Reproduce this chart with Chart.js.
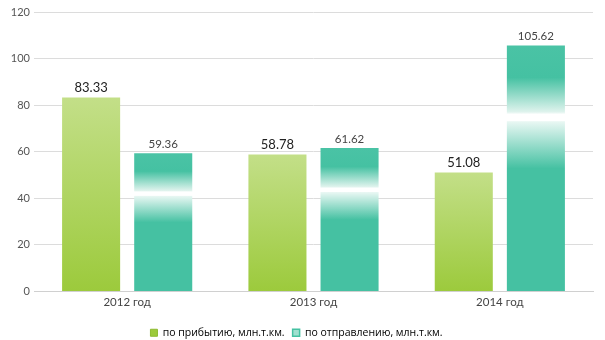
<!DOCTYPE html>
<html>
<head>
<meta charset="utf-8">
<script src="https://cdn.jsdelivr.net/npm/chart.js@4/dist/chart.umd.min.js"></script>
<style>
  html, body { margin: 0; padding: 0; background: #fff; }
  #wrap { width: 605px; height: 340px; }
</style>
</head>
<body>
<div id="wrap"><canvas id="chart"></canvas></div>
<script>
// Data
var categories = ['2012 год', '2013 год', '2014 год'];
var arrivalValues = [83.33, 58.78, 51.08];
var departureValues = [59.36, 61.62, 105.62];
var seriesNames = ['по прибытию, млн.т.км.', 'по отправлению, млн.т.км.'];
var yTicks = [0, 20, 40, 60, 80, 100, 120];

var teal = '#45c1a2';

// Gradient for each bar, from its own top to the axis
function barGradient(ctx, stops) {
	var chart = ctx.chart;
	var y = chart.scales.y;
	if (!y || ctx.raw === undefined) return stops[0][1];
	var top = y.getPixelForValue(ctx.raw);
	var base = y.getPixelForValue(0);
	var g = chart.ctx.createLinearGradient(0, top, 0, base);
	stops.forEach(s => g.addColorStop(s[0], s[1]));
	return g;
}

var greenStops = [[0, '#c3df88'], [1, '#9cca3c']];
var tealStops = [
	[0, '#4ac3a5'], [0.13, teal], [0.27, '#dff3ed'], [0.28, '#ffffff'],
	[0.305, '#ffffff'], [0.31, '#e8f7f3'], [0.5, teal], [1, teal]
];

// Value labels above the bars
var valueLabels = {
	id: 'valueLabels',
	afterDatasetsDraw: function (chart) {
		var ctx = chart.ctx;
		ctx.save();
		ctx.textAlign = 'center';
		ctx.textBaseline = 'bottom';
		chart.data.datasets.forEach((ds, i) => {
			var meta = chart.getDatasetMeta(i);
			meta.data.forEach((bar, j) => {
				if (i == 0) {
					ctx.font = '13px Lato';
					ctx.fillStyle = '#222';
				} else {
					ctx.font = '11.5px Lato';
					ctx.fillStyle = '#444';
				}
				ctx.fillText(ds.data[j].toFixed(2), bar.x, bar.y - 3);
			});
		});
		ctx.restore();
	}
};

new Chart(document.getElementById('chart').getContext('2d'), {
	type: 'bar',
	data: {
		labels: categories,
		datasets: [
			{
				label: seriesNames[0],
				data: arrivalValues,
				backgroundColor: ctx => barGradient(ctx, greenStops),
				categoryPercentage: 0.774,
				barPercentage: 0.805
			},
			{
				label: seriesNames[1],
				data: departureValues,
				backgroundColor: ctx => barGradient(ctx, tealStops),
				categoryPercentage: 0.774,
				barPercentage: 0.805
			}
		]
	},
	options: {
		responsive: true,
		maintainAspectRatio: false,
		animation: false,
		layout: { padding: { top: 12, right: 12, left: 0, bottom: -8 } },
		plugins: {
			tooltip: { enabled: false },
			legend: {
				position: 'bottom',
				labels: {
					boxWidth: 7,
					boxHeight: 7,
					padding: 8,
					color: '#555',
					font: { family: 'Open Sans', size: 10.5 },
					generateLabels: function (chart) {
						return [
							{ text: seriesNames[0], fillStyle: '#9cca3c', strokeStyle: '#8dbb30', lineWidth: 1, datasetIndex: 0 },
							{ text: seriesNames[1], fillStyle: '#9fe0cf', strokeStyle: teal, lineWidth: 1.5, datasetIndex: 1 }
						];
					}
				}
			}
		},
		scales: {
			x: {
				grid: { display: false, drawTicks: false },
				border: { color: '#d0d0d0' },
				ticks: { color: '#444', font: { family: 'Lato', size: 11.5 }, padding: 4 },
				afterFit: function (scale) { scale.height = 28; }
			},
			y: {
				min: 0,
				max: 120,
				afterBuildTicks: function (scale) { scale.ticks = yTicks.map(v => ({ value: v })); },
				grid: { color: '#dcdcdc', drawTicks: false },
				border: { display: false },
				ticks: { color: '#555', font: { family: 'Lato', size: 11 }, padding: 4 },
				afterFit: function (scale) { scale.width = 34; }
			}
		}
	},
	plugins: [valueLabels]
});
</script>
</body>
</html>
